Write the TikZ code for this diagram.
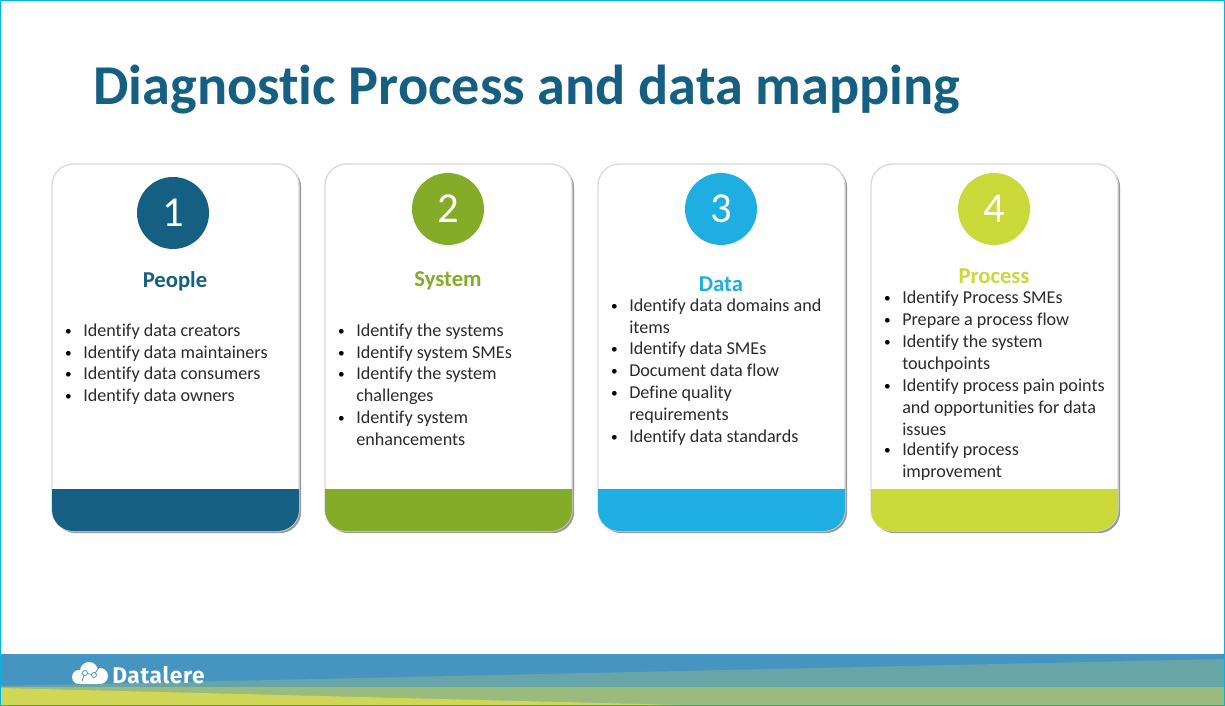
\documentclass[tikz,border=0pt]{standalone}
\usepackage{fontspec}
\usepackage{tikz}
\usetikzlibrary{shadows}
\setmainfont{Carlito}[Ligatures=CommonOff]
\newfontfamily\logofont{Fira Sans}[LetterSpace=3]

\definecolor{peoplecol}{HTML}{156082}
\definecolor{systemcol}{HTML}{84AC28}
\definecolor{datacol}{HTML}{1FAEE2}
\definecolor{processcol}{HTML}{CAD83A}
\definecolor{cardline}{HTML}{DADADA}
\definecolor{bodycol}{HTML}{2B2B2B}
\definecolor{framecol}{HTML}{00B4E0}
\definecolor{footblue}{HTML}{4695C0}
\definecolor{footteal}{HTML}{68A5A6}
\definecolor{footgreen}{HTML}{9ABB7E}
\definecolor{footyellow}{HTML}{D0D656}

\tikzset{
	card/.style={draw=cardline, fill=white, line width=1pt, rounded corners=16pt, outer sep=0pt,
		minimum width=185.25pt, minimum height=275.25pt,
		drop shadow={shadow xshift=1.6pt, shadow yshift=-1.6pt, fill=black, opacity=0.4}},
	badge/.style={circle, inner sep=0pt, minimum size=54pt, text=white, font=\fontsize{32}{36}\selectfont},
	heading/.style={font=\fontsize{17}{20}\selectfont\bfseries},
	itemtext/.style={anchor=north west, align=left, inner sep=0pt, text=bodycol,
		font=\fontsize{13.6}{16.3}\selectfont,
		label={[anchor=north east, inner sep=0pt, text=black, xshift=-8.25pt, yshift=-4pt, font=\fontsize{10}{12}\selectfont]north west:\textbullet}}
}

\begin{document}
\begin{tikzpicture}[x=0.75pt, y=-0.75pt]
	\useasboundingbox (0, 0) rectangle (1225, 706);
	\fill[white] (0, 0) rectangle (1225, 706);

	% footer
	\fill[footblue] (0, 654) rectangle (1225, 706);
	\fill[footteal] (0, 686) -- (1225, 659) -- (1225, 687) -- (0, 687) -- cycle;
	\fill[footgreen] (0, 687) rectangle (1225, 706);
	\fill[footyellow] (0, 688) -- (720, 706) -- (0, 706) -- cycle;

	% logo
	\fill[white] (79, 677) circle (7) (89, 671) circle (9) (100, 676) circle (8);
	\fill[white] (79, 677) rectangle (100, 684);
	\draw[footblue, line width=0.6pt] (82, 681) -- (85, 673) -- (94, 675) -- (99, 667);
	\draw[footblue, fill=white, line width=0.6pt] (85, 673) circle (2.5) (94, 675) circle (2.5);
	\node[anchor=west, inner sep=0pt, text=white, font=\fontsize{17}{19}\logofont\bfseries] (logo) at (112, 675.5) {Datalere};

	% title
	\node[anchor=west, inner sep=0pt, text=peoplecol, font=\fontsize{42.2}{48}\selectfont\bfseries] (title) at (93, 90) {Diagnostic Process and data mapping};

	% cards
	\node[card] (people) at (175.5, 347.5) {};
	\node[card] (system) at (448.5, 347.5) {};
	\node[card] (data) at (721.5, 347.5) {};
	\node[card] (process) at (994.5, 347.5) {};

	% colour bands
	\fill[peoplecol] (52, 489) [rounded corners=16pt] -- (52, 531) -- (299, 531) [sharp corners] -- (299, 489) -- cycle;
	\fill[systemcol] (325, 489) [rounded corners=16pt] -- (325, 531) -- (572, 531) [sharp corners] -- (572, 489) -- cycle;
	\fill[datacol] (598, 489) [rounded corners=16pt] -- (598, 531) -- (845, 531) [sharp corners] -- (845, 489) -- cycle;
	\fill[processcol] (871, 489) [rounded corners=16pt] -- (871, 531) -- (1118, 531) [sharp corners] -- (1118, 489) -- cycle;

	% numbers
	\node[badge, fill=peoplecol] (one) at (173, 213) {1};
	\node[badge, fill=systemcol] (two) at (448, 209) {2};
	\node[badge, fill=datacol] (three) at (721, 209) {3};
	\node[badge, fill=processcol] (four) at (994, 209) {4};

	% headings
	\node[heading, text=peoplecol] (peoplehead) at (175, 281) {People};
	\node[heading, text=systemcol] (systemhead) at (448, 281) {System};
	\node[heading, text=datacol] (datahead) at (721, 284) {Data};
	\node[heading, text=processcol] (processhead) at (994, 276) {Process};

	% people list
	\node[itemtext] (pa) at (83, 324) {Identify data creators};
	\node[itemtext] (pb) at (83, 346) {Identify data maintainers};
	\node[itemtext] (pc) at (83, 367) {Identify data consumers};
	\node[itemtext] (pd) at (83, 389) {Identify data owners};

	% system list
	\node[itemtext] (sa) at (356, 324) {Identify the systems};
	\node[itemtext] (sb) at (356, 346) {Identify system SMEs};
	\node[itemtext] (sc) at (356, 367) {Identify the system\\challenges};
	\node[itemtext] (sd) at (356, 411) {Identify system\\enhancements};

	% data list
	\node[itemtext] (da) at (629, 299) {Identify data domains and\\items};
	\node[itemtext] (db) at (629, 342) {Identify data SMEs};
	\node[itemtext] (dc) at (629, 364) {Document data flow};
	\node[itemtext] (dd) at (629, 386) {Define quality\\requirements};
	\node[itemtext] (de) at (629, 430) {Identify data standards};

	% process list
	\node[itemtext] (ra) at (902, 291) {Identify Process SMEs};
	\node[itemtext] (rb) at (902, 313) {Prepare a process flow};
	\node[itemtext] (rc) at (902, 335) {Identify the system\\touchpoints};
	\node[itemtext] (rd) at (902, 379) {Identify process pain points\\and opportunities for data\\issues};
	\node[itemtext] (re) at (902, 443) {Identify process\\improvement};

	% outer frame
	\draw[framecol, line width=1.1pt] (0.7, 0.7) rectangle (1224.3, 705.3);
\end{tikzpicture}
\end{document}
